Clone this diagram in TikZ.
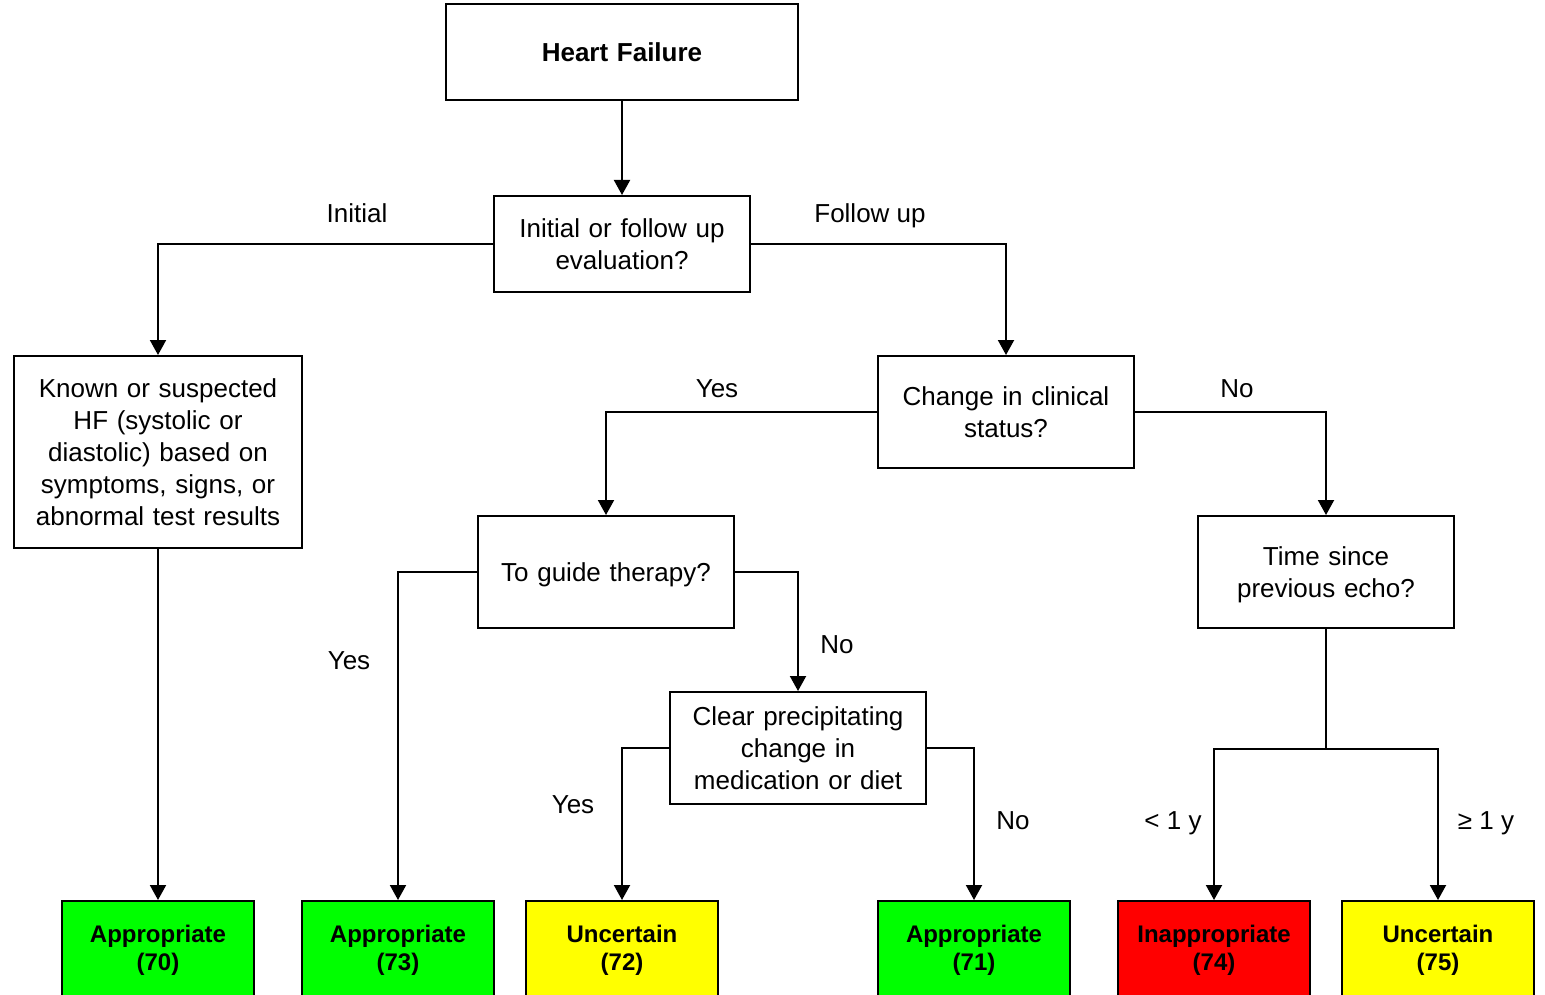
\documentclass[tikz,border=0pt]{standalone}
\usepackage{fontspec}
\setmainfont{Liberation Sans}
\usetikzlibrary{arrows.meta}
\tikzset{
  x=1pt, y=-1pt,
  box/.style={draw, line width=2pt, inner sep=0pt, align=center,
    font=\fontsize{26}{32}\selectfont},
  verdict/.style={box, font=\fontsize{24}{28}\selectfont\bfseries,
    minimum width=192pt, minimum height=98pt, text width=190pt, anchor=north},
  wire/.style={line width=2pt},
  arr/.style={wire, -{Triangle[width=16pt,length=15pt]}},
  lbl/.style={font=\fontsize{26}{32}\selectfont, inner sep=0pt, text depth=0pt},
}
\newcommand{\nodepth}[1]{\raisebox{0pt}[\height][0pt]{#1}}
\definecolor{okgreen}{RGB}{0,255,0}
\definecolor{unsure}{RGB}{255,255,0}
\definecolor{nogo}{RGB}{255,0,0}
\begin{document}
\begin{tikzpicture}
\useasboundingbox (0,0) rectangle (1545,995);

% decision boxes
\node[box, minimum width=352pt, minimum height=96pt, text width=340pt, font=\fontsize{26}{32}\selectfont\bfseries]
  (hf) at (622,52) {Heart Failure};
\node[box, minimum width=256pt, minimum height=96pt, text width=250pt] (eval) at (622,244)
  {Initial or follow up\\evaluation?};
\node[box, minimum width=288pt, minimum height=192pt, text width=280pt] (known) at (158,452)
  {Known or suspected\\HF (systolic or\\diastolic) based on\\symptoms, signs, or\\abnormal test results};
\node[box, minimum width=256pt, minimum height=112pt, text width=250pt] (change) at (1006,412)
  {Change in clinical\\status?};
\node[box, minimum width=256pt, minimum height=112pt, text width=250pt] (guide) at (606,572)
  {\nodepth{To guide therapy?}};
\node[box, minimum width=256pt, minimum height=112pt, text width=250pt] (since) at (1326,572)
  {Time since\\\nodepth{previous echo?}};
\node[box, minimum width=256pt, minimum height=112pt, text width=250pt] (clear) at (798,748)
  {Clear precipitating\\change in\\medication or diet};

% outcome boxes
\node[verdict, fill=okgreen] (v70) at (158,900) {Appropriate\\(70)};
\node[verdict, fill=okgreen] (v73) at (398,900) {Appropriate\\(73)};
\node[verdict, fill=unsure]  (v72) at (622,900) {Uncertain\\(72)};
\node[verdict, fill=okgreen] (v71) at (974,900) {Appropriate\\(71)};
\node[verdict, fill=nogo]    (v74) at (1214,900) {Inappropriate\\(74)};
\node[verdict, fill=unsure]  (v75) at (1438,900) {Uncertain\\(75)};

% connectors
\draw[arr] (hf.south) -- (eval.north);
\draw[arr] (eval.west) -| (known.north);
\draw[arr] (eval.east) -| (change.north);
\draw[arr] (known.south) -- (v70.north);
\draw[arr] (change.west) -| (guide.north);
\draw[arr] (change.east) -| (since.north);
\draw[arr] (guide.west) -| (v73.north);
\draw[arr] (guide.east) -| (clear.north);
\draw[arr] (clear.west) -| (v72.north);
\draw[arr] (clear.east) -| (v71.north);
\coordinate (fork) at (1326,749);
\draw[wire] (since.south) -- (fork);
\draw[arr] (fork) -| (v74.north);
\draw[arr] (fork) -| (v75.north);

% branch labels
\node[lbl] (l1) at (357,213) {Initial};
\node[lbl] (l2) at (870,213) {Follow up};
\node[lbl] (l3) at (717,389) {Yes};
\node[lbl] (l4) at (1237,389) {No};
\node[lbl] (l5) at (349,661) {Yes};
\node[lbl] (l6) at (837,645) {No};
\node[lbl] (l7) at (573,805) {Yes};
\node[lbl] (l8) at (1013,821) {No};
\node[lbl] (l9) at (1173,821) {< 1 y};
\node[lbl] (l10) at (1486,821) {≥ 1 y};
\end{tikzpicture}
\end{document}
